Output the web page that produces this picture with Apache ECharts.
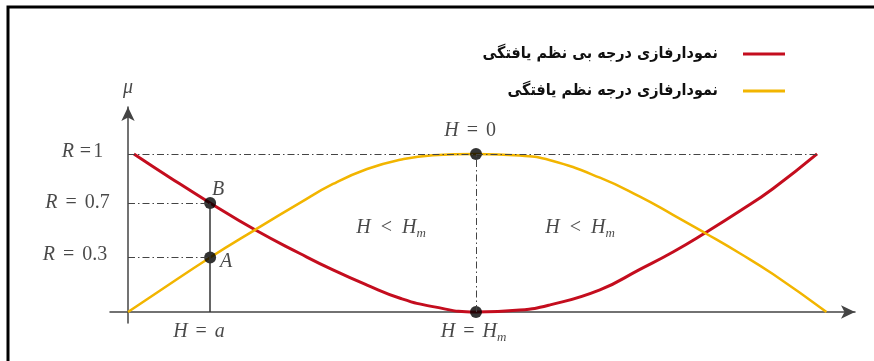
<!DOCTYPE html>
<html>
<head>
<meta charset="utf-8">
<script src="https://cdn.jsdelivr.net/npm/echarts@6/dist/echarts.min.js"></script>
<style>
html,body{margin:0;padding:0;background:#fff;}
#chart{width:874px;height:361px;}
</style>
</head>
<body>
<div id="chart"></div>
<script>
// legend names
var nameDisorder = 'نمودارفازی درجه بی نظم یافتگی';
var nameOrder = 'نمودارفازی درجه نظم یافتگی';

// H axis in units of Hm (Hm = 1), mu axis 0..1
var disorderX = [0.017, 0.121, 0.236, 0.365, 0.494, 0.589, 0.687, 0.782, 0.876, 1.0, 1.126, 1.213, 1.356, 1.471, 1.566, 1.658, 1.759, 1.853, 1.98];
var disorderY = [1.0, 0.85, 0.69, 0.52, 0.37, 0.266, 0.17, 0.087, 0.034, 0.0, 0.012, 0.045, 0.14, 0.27, 0.38, 0.50, 0.64, 0.78, 1.0];
var orderX = [0, 0.086, 0.236, 0.365, 0.494, 0.589, 0.687, 0.782, 0.876, 1.0, 1.126, 1.213, 1.356, 1.471, 1.566, 1.658, 1.759, 1.853, 2.007];
var orderY = [0, 0.127, 0.345, 0.52, 0.69, 0.81, 0.905, 0.963, 0.992, 1.0, 0.99, 0.96, 0.85, 0.73, 0.615, 0.50, 0.37, 0.24, 0];

// black points B, A, H=0, H=Hm
var keyPoints = [[0.236, 0.69], [0.236, 0.345], [1, 1], [1, 0]];

// dash-dot guide lines and the solid drop line at H = a
var dashGuides = [[[0, 1], [1.98, 1]], [[0, 0.69], [0.236, 0.69]], [[0, 0.345], [0.236, 0.345]], [[1, 0], [1, 1]]];
var solidGuides = [[[0.236, 0], [0.236, 0.69]]];

// annotation texts and their centres (data units)
var noteText = ['{i|μ}', '{i|R}{f|=}1', '{i|R}{e|=}0.7', '{i|R}{e|=}0.3', '{i|H}{e|=}0', '{i|H}{e|=}{i|H}{s|m}', '{i|H}{e|=}{i|a}', '{i|B}', '{i|A}', '{i|H}{l|<}{i|H}{s|m}', '{i|H}{l|<}{i|H}{s|m}'];
var noteX = [0, -0.131, -0.145, -0.152, 0.983, 0.993, 0.204, 0.259, 0.282, 0.756, 1.299];
var noteY = [1.418, 1.013, 0.69, 0.36, 1.146, -0.127, -0.127, 0.772, 0.316, 0.53, 0.53];

var red = '#c40d1e';
var yellow = '#f2b500';
var ink = '#1a1a1a';

function pairs(xs, ys) {
	return xs.map(function (x, i) { return [x, ys[i]]; });
}

var guideData = [];
dashGuides.forEach(function (g) {
	guideData.push([{ coord: g[0] }, { coord: g[1] }]);
});
solidGuides.forEach(function (g) {
	guideData.push([{ coord: g[0], lineStyle: { type: 'solid', width: 1.5, color: '#333' } }, { coord: g[1] }]);
});

var notes = noteText.map(function (t, i) {
	return { value: [noteX[i], noteY[i]], name: t };
});

var serif = 'Liberation Serif';

var myChart = echarts.init(document.getElementById('chart'));
var option = {
	animation: false,
	backgroundColor: '#fff',
	graphic: [{
		type: 'polyline',
		shape: { points: [[8, 361], [8, 7], [874, 7]] },
		style: { stroke: '#000', lineWidth: 3, fill: null },
		silent: true
	}],
	legend: {
		data: [nameDisorder, nameOrder],
		orient: 'vertical',
		right: 84,
		top: 39,
		align: 'right',
		icon: 'rect',
		itemWidth: 42,
		itemHeight: 3,
		itemGap: 17,
		textStyle: {
			fontFamily: '"DejaVu Sans Condensed", "DejaVu Sans"',
			fontWeight: 'bold',
			fontSize: 16,
			lineHeight: 20,
			color: '#111',
			padding: [0, 20, 0, 0]
		}
	},
	grid: { left: 110, top: 107, width: 745, height: 216 },
	xAxis: {
		type: 'value',
		min: -0.0517,
		max: 2.089,
		splitLine: { show: false },
		axisTick: { show: false },
		axisLabel: { show: false },
		axisLine: {
			onZero: true,
			symbol: ['none', 'arrow'],
			symbolSize: [10, 14],
			lineStyle: { color: '#444', width: 1.5 }
		}
	},
	yAxis: {
		type: 'value',
		min: -0.0696,
		max: 1.297,
		splitLine: { show: false },
		axisTick: { show: false },
		axisLabel: { show: false },
		axisLine: {
			onZero: true,
			symbol: ['none', 'arrow'],
			symbolSize: [10, 14],
			lineStyle: { color: '#444', width: 1.5 }
		}
	},
	series: [{
		name: 'guides',
		type: 'scatter',
		data: [],
		z: 1,
		markLine: {
			silent: true,
			symbol: ['none', 'none'],
			label: { show: false },
			lineStyle: { type: [7, 3, 1.5, 3], color: '#444', width: 1 },
			data: guideData
		}
	}, {
		name: nameDisorder,
		type: 'line',
		data: pairs(disorderX, disorderY),
		smooth: 0.5,
		showSymbol: false,
		symbol: 'none',
		z: 2,
		itemStyle: { color: red },
		lineStyle: { color: red, width: 3 }
	}, {
		name: nameOrder,
		type: 'line',
		data: pairs(orderX, orderY),
		smooth: 0.5,
		showSymbol: false,
		symbol: 'none',
		z: 3,
		itemStyle: { color: yellow },
		lineStyle: { color: yellow, width: 2.5 }
	}, {
		name: 'points',
		type: 'scatter',
		data: keyPoints,
		symbolSize: 12,
		z: 4,
		itemStyle: { color: '#000' }
	}, {
		name: 'notes',
		type: 'scatter',
		data: notes,
		symbolSize: 0,
		clip: false,
		z: 5,
		label: {
			show: true,
			position: 'inside',
			formatter: function (p) { return p.name; },
			fontFamily: serif,
			fontSize: 20,
			color: ink,
			rich: {
				i: { fontStyle: 'italic', fontFamily: serif, fontSize: 20, color: ink },
				e: { fontFamily: serif, fontSize: 20, color: ink, padding: [0, 8, 0, 8] },
				f: { fontFamily: serif, fontSize: 20, color: ink, padding: [0, 2, 0, 6] },
				l: { fontFamily: serif, fontSize: 20, color: ink, padding: [0, 10, 0, 10] },
				s: { fontStyle: 'italic', fontFamily: serif, fontSize: 13, color: ink, padding: [11, 0, 0, 0] }
			}
		}
	}]
};
myChart.setOption(option);
</script>
</body>
</html>
